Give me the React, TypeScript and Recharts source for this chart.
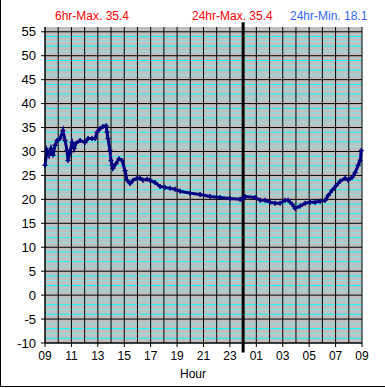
import {
  CartesianGrid,
  Line,
  LineChart,
  ReferenceLine,
  XAxis,
  YAxis,
} from "recharts"

// hours since 09:00
const hours = [
  0, 0.15, 0.3, 0.45, 0.61, 0.76, 0.91, 1.14, 1.36, 1.52, 1.67, 1.74, 1.89,
  2.05, 2.2, 2.35, 2.65, 3.03, 3.26, 3.56, 3.79, 3.94, 4.17, 4.39, 4.62, 4.7,
  4.77, 4.92, 5.0, 5.08, 5.15, 5.38, 5.61, 5.83, 6.06, 6.21, 6.44, 6.67, 6.97,
  7.2, 7.42, 7.73, 7.95, 8.33, 8.71, 9.09, 9.47, 9.85, 10.23, 10.98, 11.74,
  12.5, 13.26, 14.02, 14.77, 14.92, 15.15, 15.91, 16.29, 16.67, 17.05, 17.42,
  17.8, 18.18, 18.41, 18.71, 18.94, 19.32, 19.7, 20.08, 20.45, 20.83, 21.21,
  21.44, 21.74, 22.05, 22.35, 22.73, 22.95, 23.26, 23.48, 23.71, 23.86, 23.94,
]

const temps = [
  27.1, 30.2, 29.2, 30.6, 29.2, 31.3, 32.3, 32.7, 34.4, 32.3, 30.2, 28.1, 29.8,
  31.9, 30.6, 31.7, 32.3, 31.9, 32.7, 32.7, 32.7, 34.0, 34.8, 35.2, 35.4, 34.0,
  32.7, 30.2, 28.1, 27.1, 26.5, 27.5, 28.5, 28.1, 26.0, 24.0, 23.3, 24.0, 24.4,
  24.4, 24.0, 24.2, 24.0, 23.5, 22.7, 22.5, 22.3, 22.1, 21.7, 21.3, 21.0, 20.6,
  20.4, 20.2, 20.0, 20.0, 20.6, 20.4, 19.8, 19.8, 19.4, 19.2, 19.2, 19.8, 19.8,
  19.0, 18.1, 18.6, 19.2, 19.4, 19.4, 19.6, 19.8, 20.8, 21.9, 22.9, 23.8, 24.4,
  24.0, 24.6, 25.6, 27.1, 28.1, 30.2,
]

const hourLabels = [
  "09", "11", "13", "15", "17", "19", "21", "23", "01", "03", "05", "07", "09",
]

const headerLabels = ["6hr-Max. 35.4", "24hr-Max. 35.4", "24hr-Min. 18.1"]

const data = hours.map((h, i) => ({ h, t: temps[i] }))

const xTicks = hourLabels.map((_, i) => i * 2)
const yTicks = Array.from({ length: 14 }, (_, i) => -10 + i * 5)
const hourLines = Array.from({ length: 25 }, (_, i) => i)
const minorLines = Array.from({ length: 66 }, (_, i) => -10 + i).filter(
  (v) => v % 5 !== 0
)
const brightLines = minorLines.filter((v) => ((v % 5) + 5) % 2 === 1)
const paleLines = minorLines.filter((v) => ((v % 5) + 5) % 2 === 0)

const font = "'Liberation Sans', Arial, sans-serif"

const PlusDot = (props: any) => {
  const { cx, cy, index } = props
  if (cx == null || cy == null) return null
  return (
    <path
      key={index}
      d={`M${cx - 2.5},${cy}h5M${cx},${cy - 2.5}v5`}
      stroke="#000080"
      strokeWidth={1.5}
    />
  )
}

export default function App() {
  return (
    <div
      style={{
        position: "absolute",
        left: 0,
        top: 0,
        width: 385,
        height: 388,
        background: "#fff",
        fontFamily: font,
      }}
    >
      <div
        style={{
          position: "absolute",
          left: 0,
          top: 0,
          width: 385,
          height: 387,
          borderLeft: "1px solid #000",
          borderBottom: "1px solid #000",
          boxSizing: "border-box",
        }}
      />
      <span style={{ position: "absolute", left: 55, top: 9, fontSize: 12, color: "#ff0000" }}>
        {headerLabels[0]}
      </span>
      <span style={{ position: "absolute", left: 192, top: 9, fontSize: 12, color: "#ff0000" }}>
        {headerLabels[1]}
      </span>
      <span style={{ position: "absolute", left: 290, top: 9, fontSize: 12, color: "#3366ff" }}>
        {headerLabels[2]}
      </span>
      <span
        style={{
          position: "absolute",
          left: 0,
          width: 386,
          top: 367,
          fontSize: 12,
          textAlign: "center",
          color: "#000",
        }}
      >
        Hour
      </span>
      <LineChart
        width={385}
        height={388}
        data={data}
        margin={{ top: 27, right: 23, left: 0, bottom: 25 }}
        style={{ position: "absolute", left: 0, top: 0 }}
      >
        <CartesianGrid
          fill="#c0c0c0"
          fillOpacity={1}
          stroke="#00ffff"
          vertical={false}
          horizontalValues={brightLines}
        />
        <CartesianGrid
          stroke="#7fe6e6"
          vertical={false}
          horizontalValues={paleLines}
        />
        <CartesianGrid
          stroke="#000"
          horizontalValues={yTicks}
          verticalValues={hourLines}
        />
        <XAxis
          dataKey="h"
          type="number"
          domain={[0, 24]}
          ticks={xTicks}
          tickFormatter={(v: number) => hourLabels[v / 2]}
          interval={0}
          height={20}
          tickSize={4}
          tickMargin={4}
          axisLine={{ stroke: "#000" }}
          tickLine={{ stroke: "#000" }}
          tick={{ fill: "#000", fontSize: 12, fontFamily: font }}
        />
        <YAxis
          type="number"
          domain={[-10, 56]}
          ticks={yTicks}
          interval={0}
          width={45}
          tickSize={4}
          tickMargin={5}
          allowDataOverflow
          axisLine={{ stroke: "#000" }}
          tickLine={{ stroke: "#000" }}
          tick={{ fill: "#000", fontSize: 13, fontFamily: font }}
        />
        <ReferenceLine
          segment={[
            { x: 15, y: 57 },
            { x: 15, y: -12 },
          ]}
          ifOverflow="visible"
          stroke="#000"
          strokeWidth={3}
        />
        <Line
          type="linear"
          dataKey="t"
          stroke="#000080"
          strokeWidth={3}
          dot={PlusDot}
          activeDot={false}
          isAnimationActive={false}
        />
      </LineChart>
    </div>
  )
}
